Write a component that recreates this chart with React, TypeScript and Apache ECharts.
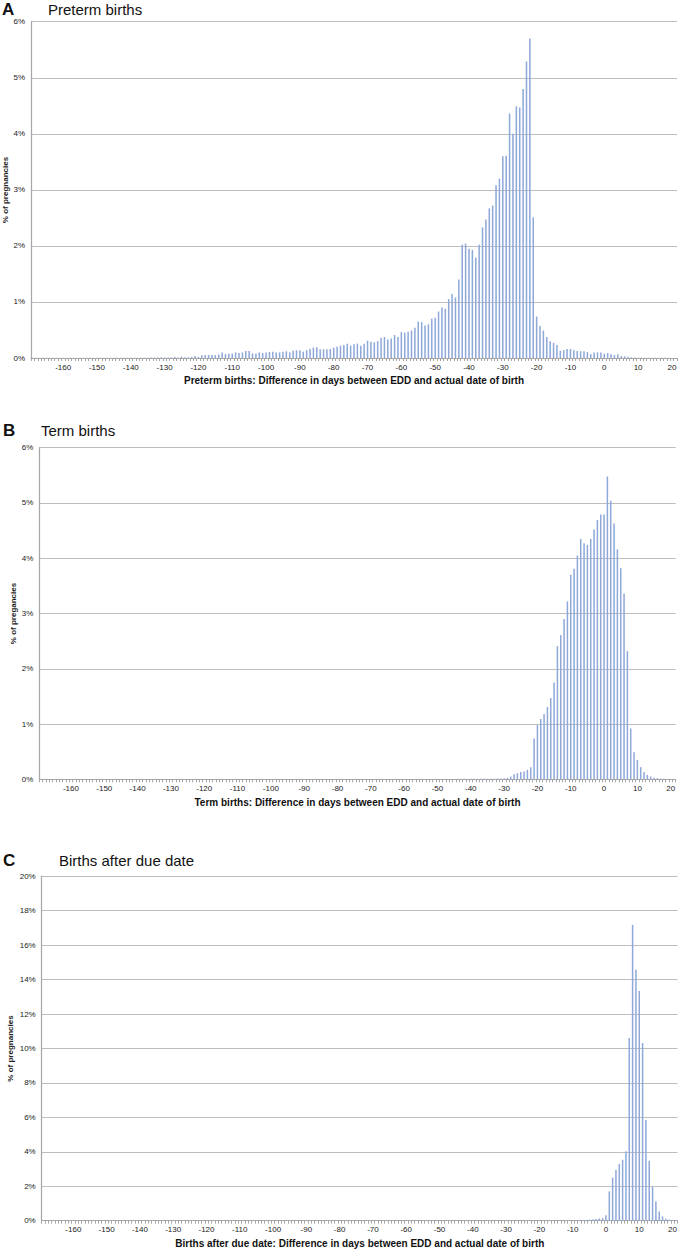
import React, { useEffect, useRef } from 'react';
import * as echarts from 'echarts';

const DAY_FIRST = -169;
const DAY_LAST = 21;
const DAYS: string[] = [];
for (let d = DAY_FIRST; d <= DAY_LAST; d++) DAYS.push(String(d));

// Panel A: preterm births, % of pregnancies, days -169 .. 21
const PRETERM = [
  0.003, 0.003, 0.003, 0.003, 0.003, 0.003, 0.003, 0.003, 0.003, 0.003,
  0.003, 0.003, 0.003, 0.003, 0.003, 0.003, 0.003, 0.004, 0.003, 0.003,
  0.004, 0.004, 0.004, 0.004, 0.004, 0.004, 0.005, 0.004, 0.004, 0.005,
  0.005, 0.005, 0.005, 0.006, 0.006, 0.007, 0.008, 0.008, 0.012, 0.010,
  0.010, 0.010, 0.020, 0.010, 0.025, 0.012, 0.012, 0.020, 0.035, 0.020,
  0.050, 0.055, 0.055, 0.055, 0.050, 0.065, 0.100, 0.070, 0.077, 0.077,
  0.100, 0.090, 0.100, 0.125, 0.125, 0.083, 0.077, 0.100, 0.090, 0.100,
  0.107, 0.113, 0.100, 0.100, 0.113, 0.120, 0.100, 0.130, 0.137, 0.137,
  0.113, 0.140, 0.167, 0.185, 0.190, 0.155, 0.155, 0.155, 0.160, 0.185,
  0.200, 0.220, 0.230, 0.256, 0.220, 0.244, 0.256, 0.220, 0.256, 0.310,
  0.290, 0.280, 0.300, 0.360, 0.375, 0.330, 0.350, 0.410, 0.375, 0.460,
  0.450, 0.470, 0.490, 0.540, 0.650, 0.640, 0.580, 0.600, 0.700, 0.720,
  0.83, 0.90, 0.88, 1.05, 1.14, 1.08, 1.40, 2.02, 2.04, 1.95,
  1.93, 1.79, 2.02, 2.33, 2.47, 2.67, 2.72, 3.08, 3.20, 3.60,
  3.61, 4.36, 4.00, 4.49, 4.47, 4.80, 5.29, 5.70, 2.51, 0.74,
  0.57, 0.49, 0.375, 0.30, 0.27, 0.23, 0.13, 0.14, 0.16, 0.16,
  0.137, 0.125, 0.12, 0.12, 0.107, 0.07, 0.10, 0.10, 0.10, 0.077,
  0.09, 0.065, 0.054, 0.065, 0.036, 0.03, 0.024, 0.012, 0.008, 0.006,
  0.008, 0.005, 0.005, 0.004, 0.004, 0.003, 0.003, 0.003, 0.002, 0.002, 0.002,
];

// Panel B: term births
const TERM = [
  0.002, 0.002, 0.002, 0.002, 0.002, 0.002, 0.002, 0.002, 0.002, 0.002,
  0.002, 0.002, 0.002, 0.002, 0.002, 0.002, 0.002, 0.002, 0.002, 0.002,
  0.002, 0.002, 0.002, 0.002, 0.002, 0.002, 0.002, 0.002, 0.002, 0.002,
  0.002, 0.002, 0.002, 0.002, 0.002, 0.002, 0.002, 0.002, 0.002, 0.002,
  0.002, 0.002, 0.002, 0.002, 0.002, 0.002, 0.002, 0.002, 0.002, 0.002,
  0.002, 0.002, 0.002, 0.002, 0.002, 0.002, 0.002, 0.002, 0.002, 0.002,
  0.002, 0.002, 0.002, 0.002, 0.002, 0.002, 0.002, 0.002, 0.002, 0.002,
  0.002, 0.002, 0.002, 0.002, 0.002, 0.002, 0.002, 0.002, 0.002, 0.002,
  0.002, 0.002, 0.002, 0.002, 0.002, 0.002, 0.002, 0.002, 0.002, 0.002,
  0.002, 0.002, 0.002, 0.002, 0.002, 0.002, 0.002, 0.002, 0.002, 0.002,
  0.002, 0.002, 0.002, 0.002, 0.002, 0.002, 0.002, 0.002, 0.002, 0.002,
  0.003, 0.003, 0.003, 0.003, 0.004, 0.003, 0.004, 0.004, 0.004, 0.005,
  0.005, 0.005, 0.006, 0.006, 0.006, 0.007, 0.007, 0.008, 0.008, 0.008,
  0.008, 0.008, 0.010, 0.010, 0.010, 0.012, 0.012, 0.015, 0.015, 0.020,
  0.025, 0.05, 0.09, 0.11, 0.13, 0.14, 0.17, 0.22, 0.74, 0.98,
  1.09, 1.18, 1.31, 1.47, 1.75, 2.41, 2.61, 2.90, 3.22, 3.70,
  3.81, 4.05, 4.35, 4.27, 4.24, 4.35, 4.52, 4.69, 4.79, 4.79,
  5.48, 5.04, 4.63, 4.16, 3.82, 3.36, 2.32, 0.92, 0.49, 0.35,
  0.22, 0.13, 0.08, 0.05, 0.03, 0.02, 0.012, 0.008, 0.005, 0.004, 0.003,
];

// Panel C: births after due date
const POSTTERM = [
  0.004, 0.004, 0.004, 0.004, 0.004, 0.004, 0.004, 0.004, 0.004, 0.004,
  0.004, 0.004, 0.004, 0.004, 0.004, 0.004, 0.004, 0.004, 0.004, 0.004,
  0.004, 0.004, 0.004, 0.004, 0.004, 0.004, 0.004, 0.004, 0.004, 0.004,
  0.004, 0.004, 0.004, 0.004, 0.004, 0.004, 0.004, 0.004, 0.004, 0.004,
  0.004, 0.004, 0.004, 0.004, 0.004, 0.004, 0.004, 0.004, 0.004, 0.004,
  0.004, 0.004, 0.004, 0.004, 0.004, 0.004, 0.004, 0.004, 0.004, 0.004,
  0.004, 0.004, 0.004, 0.004, 0.004, 0.004, 0.004, 0.004, 0.004, 0.004,
  0.004, 0.004, 0.004, 0.004, 0.004, 0.004, 0.004, 0.004, 0.004, 0.004,
  0.004, 0.004, 0.004, 0.004, 0.004, 0.004, 0.004, 0.004, 0.004, 0.004,
  0.004, 0.004, 0.004, 0.004, 0.004, 0.004, 0.004, 0.004, 0.004, 0.004,
  0.004, 0.004, 0.004, 0.004, 0.004, 0.004, 0.004, 0.004, 0.004, 0.004,
  0.004, 0.004, 0.004, 0.004, 0.004, 0.004, 0.004, 0.004, 0.004, 0.004,
  0.004, 0.004, 0.004, 0.004, 0.004, 0.004, 0.004, 0.004, 0.004, 0.004,
  0.004, 0.004, 0.004, 0.004, 0.004, 0.004, 0.004, 0.004, 0.004, 0.004,
  0.004, 0.005, 0.005, 0.005, 0.006, 0.006, 0.006, 0.007, 0.008, 0.008,
  0.008, 0.009, 0.010, 0.010, 0.012, 0.012, 0.014, 0.015, 0.016, 0.018,
  0.02, 0.02, 0.04, 0.04, 0.06, 0.08, 0.10, 0.13, 0.15, 0.31,
  1.70, 2.50, 2.94, 3.29, 3.54, 4.03, 10.61, 17.17, 14.58, 13.34,
  10.32, 5.85, 3.48, 1.96, 1.12, 0.54, 0.25, 0.12, 0.06, 0.04, 0.02,
];

const PANEL_LETTERS = ['A', 'B', 'C'];
const PANEL_TITLES = ['Preterm births', 'Term births', 'Births after due date'];
const Y_NAMES = ['% of pregnancies', '% of pregancies', '% of pregnancies'];
const X_NAMES = [
  'Preterm births: Difference in days between EDD and actual date of birth',
  'Term births: Difference in days between EDD and actual date of birth',
  'Births after due date: Difference in days between EDD and actual date of birth',
];
const Y_MAX = [6, 6, 20];
const Y_STEP = [1, 1, 2];
const SERIES = [PRETERM, TERM, POSTTERM];

const FONT = '"Liberation Sans", Arial, Helvetica, sans-serif';

// layout (pixels)
const GRIDS = [
  { left: 31, top: 21.7, width: 646, height: 336.3 },
  { left: 39.3, top: 447.7, width: 636.4, height: 331.6 },
  { left: 41.7, top: 876.3, width: 636.3, height: 344.4 },
];
const LETTER_POS = [[2, 9.5], [3, 430.5], [3, 860.5]];
const TITLE_POS = [[48, 9], [41, 430], [59, 860]];
const YNAME_POS = [[5, 190], [13, 613.5], [10.5, 1048.5]];
const XNAME_Y = [380, 802, 1243];

export default function App() {
  const ref = useRef<HTMLDivElement>(null);
  useEffect(() => {
    document.body.style.margin = '0';
    const chart = echarts.init(ref.current!, null, { renderer: 'svg' });
    const axisGray = '#a6a6a6';
    const graphic: any[] = [];
    for (let i = 0; i < 3; i++) {
      const g = GRIDS[i];
      graphic.push({
        type: 'text', x: LETTER_POS[i][0], y: LETTER_POS[i][1],
        style: { text: PANEL_LETTERS[i], fontSize: 17, fontWeight: 'bold', fontFamily: FONT, fill: '#111', textVerticalAlign: 'middle', verticalAlign: 'middle' },
      });
      graphic.push({
        type: 'text', x: TITLE_POS[i][0], y: TITLE_POS[i][1],
        style: { text: PANEL_TITLES[i], fontSize: 15, fontFamily: FONT, fill: '#111', textVerticalAlign: 'middle', verticalAlign: 'middle' },
      });
      graphic.push({
        type: 'text', x: YNAME_POS[i][0], y: YNAME_POS[i][1], rotation: Math.PI / 2,
        style: { text: Y_NAMES[i], fontSize: 8, fontWeight: 'bold', fontFamily: FONT, fill: '#222', textAlign: 'center', align: 'center', textVerticalAlign: 'middle', verticalAlign: 'middle' },
      });
      graphic.push({
        type: 'text', x: g.left + g.width / 2, y: XNAME_Y[i],
        style: { text: X_NAMES[i], fontSize: 10, fontWeight: 'bold', fontFamily: FONT, fill: '#111', textAlign: 'center', align: 'center', textVerticalAlign: 'middle', verticalAlign: 'middle' },
      });
    }
    const option: any = {
      animation: false,
      grid: GRIDS.map((g) => ({ ...g, containLabel: false })),
      xAxis: GRIDS.map((_, i) => ({
        type: 'category',
        gridIndex: i,
        data: DAYS,
        boundaryGap: true,
        axisLine: { show: true, lineStyle: { color: axisGray, width: 1 } },
        axisTick: { show: true, interval: 0, length: 3, lineStyle: { color: axisGray, width: 1 } },
        axisLabel: {
          interval: (_idx: number, val: string) => Number(val) % 10 === 0,
          fontSize: 8,
          fontFamily: FONT,
          color: '#222',
          margin: 5,
        },
        splitLine: { show: false },
      })),
      yAxis: GRIDS.map((_, i) => ({
        type: 'value',
        gridIndex: i,
        min: 0,
        max: Y_MAX[i],
        interval: Y_STEP[i],
        axisLine: { show: true, lineStyle: { color: axisGray, width: 1.2 } },
        axisTick: { show: false },
        axisLabel: { formatter: '{value}%', fontSize: 8, fontFamily: FONT, color: '#222', margin: 6 },
        splitLine: { show: true, lineStyle: { color: '#bdbdbd', width: 1 } },
      })),
      series: SERIES.map((data, i) => ({
        type: 'bar',
        xAxisIndex: i,
        yAxisIndex: i,
        data,
        barWidth: '45%',
        silent: true,
        itemStyle: { color: '#8EA8DA' },
      })),
      graphic,
    };
    chart.setOption(option);
    return () => chart.dispose();
  }, []);
  return <div ref={ref} style={{ width: 680, height: 1250 }} />;
}
